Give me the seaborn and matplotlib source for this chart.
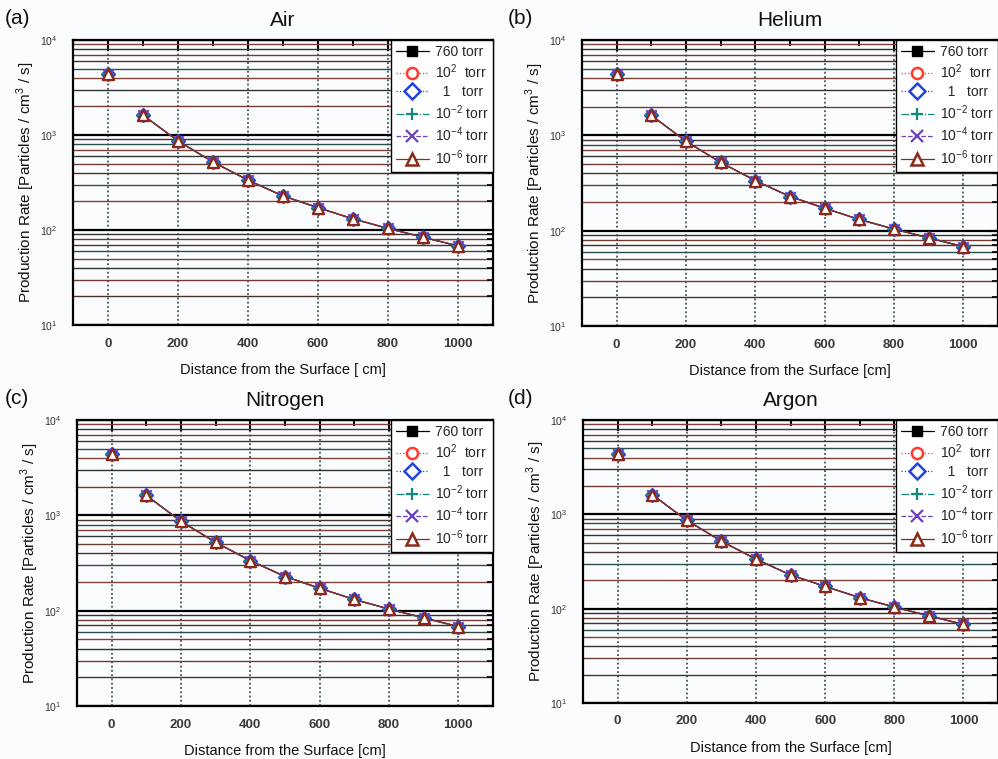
import numpy as np
import pandas as pd
import matplotlib
matplotlib.use("Agg")
import matplotlib.pyplot as plt
import seaborn as sns
from matplotlib.lines import Line2D
from matplotlib.ticker import LogLocator, MultipleLocator, NullFormatter

sns.set_theme(style="white")
plt.rcParams["font.family"] = ["Liberation Sans", "DejaVu Sans"]
plt.rcParams["mathtext.fontset"] = "custom"
plt.rcParams["mathtext.rm"] = "Liberation Sans"

# ---------------- data ----------------
distance = [0, 100, 200, 300, 400, 500, 600, 700, 800, 900, 1000]

rate_air      = [4400, 1620, 865, 520, 335, 228, 172, 131, 104, 84, 68]
rate_helium   = [4400, 1620, 865, 520, 335, 228, 172, 131, 104, 84, 68]
rate_nitrogen = [4400, 1620, 865, 520, 335, 228, 172, 131, 104, 84, 68]
rate_argon    = [4400, 1620, 865, 520, 335, 228, 172, 131, 104, 84, 68]

pressures = ["760 torr", "10$^2$  torr", "  1   torr",
             "10$^{-2}$ torr", "10$^{-4}$ torr", "10$^{-6}$ torr"]
gases = ["Air", "Helium", "Nitrogen", "Argon"]
panel_tags = ["(a)", "(b)", "(c)", "(d)"]
xlabels = ["Distance from the Surface [ cm]", "Distance from the Surface [cm]",
           "Distance from the Surface [cm]", "Distance from the Surface [cm]"]
gas_rates = [rate_air, rate_helium, rate_nitrogen, rate_argon]

# ---------------- styles ----------------
colors = ["black", "#ff3b2f", "#2244dd", "#128a7a", "#6a3fc0", "#8b2a1a"]
markers = ["s", "o", "D", "+", "x", "^"]
lstyles = ["-", ":", ":", "-.", "--", "-"]
filled = [True, False, False, None, None, False]
msizes = [5, 6.5, 6.5, 8, 7.5, 8]

BG = "#fbfcfe"
W, H = 998, 759
fig = plt.figure(figsize=(W / 100, H / 100), dpi=100, facecolor=BG)

# pixel boxes: left, top, right, bottom
boxes = [(73, 40, 493, 325), (582, 40, 998, 326),
         (77, 420, 493, 706), (583, 420, 998, 703)]

minor_cols = ["#2f3535", "#7d4235", "#2c4f4d", "#4a3030", "#6e3b30"]

for k, (gas, tag, xl, rates) in enumerate(zip(gases, panel_tags, xlabels, gas_rates)):
    l, t, r, b = boxes[k]
    ax = fig.add_axes([l / W, 1 - b / H, (r - l) / W, (b - t) / H])
    ax.set_facecolor(BG)
    df = pd.DataFrame({"distance": distance, "rate": rates})

    for i in range(len(pressures)):
        sns.lineplot(data=df.iloc[1:], x="distance", y="rate", ax=ax,
                     color=colors[i], linestyle=lstyles[i], linewidth=0.9,
                     legend=False, zorder=3 + i)
    for i in range(len(pressures)):
        if filled[i] is None:
            sns.scatterplot(data=df, x="distance", y="rate", ax=ax,
                            marker=markers[i], s=msizes[i] ** 2, color=colors[i],
                            linewidth=1.5, legend=False, zorder=10 + i)
        elif filled[i]:
            sns.scatterplot(data=df, x="distance", y="rate", ax=ax,
                            marker=markers[i], s=msizes[i] ** 2,
                            facecolor=colors[i], edgecolor=colors[i],
                            linewidth=1.0, legend=False, zorder=10 + i)
        else:
            sns.scatterplot(data=df, x="distance", y="rate", ax=ax,
                            marker=markers[i], s=msizes[i] ** 2,
                            facecolor="white", edgecolor=colors[i],
                            linewidth=1.7, legend=False, zorder=10 + i)

    ax.set_yscale("log")
    ax.set_ylim(10, 1e4)
    ax.set_xlim(-100, 1100)
    ax.xaxis.set_major_locator(MultipleLocator(200))
    ax.xaxis.set_minor_locator(MultipleLocator(100))
    ax.yaxis.set_major_locator(LogLocator(base=10, numticks=10))
    ax.yaxis.set_minor_locator(LogLocator(base=10, subs=np.arange(2, 10), numticks=20))
    ax.yaxis.set_minor_formatter(NullFormatter())

    ax.tick_params(axis="both", which="both", direction="in", top=True, right=True,
                   color="black")
    ax.tick_params(axis="x", which="major", length=8, width=1.5, labelsize=9.5,
                   pad=9, labelcolor="#3a3a3a")
    ax.tick_params(axis="x", which="minor", length=4, width=1.5)
    ax.tick_params(axis="y", which="major", length=7, width=1.5, labelsize=7.5,
                   pad=11, labelcolor="#333333")
    ax.tick_params(axis="y", which="minor", length=4, width=1.2)
    for lab in ax.get_xticklabels():
        lab.set_fontweight("bold")

    ax.grid(False)
    ax.grid(True, axis="x", which="major", color="#1f3a40", linestyle=(0, (1.2, 1.6)),
            linewidth=1.1)
    ax.grid(True, axis="y", which="major", color="black", linewidth=1.6)
    ax.grid(True, axis="y", which="minor", color="#333333", linewidth=1.0)
    ax.set_axisbelow(True)

    for sp in ax.spines.values():
        sp.set_color("black")
        sp.set_linewidth(1.6)

    ax.set_xlabel(xl, fontsize=10.5, labelpad=10, color="#111111")
    ax.set_ylabel("Production Rate [Particles / cm$^3$ / s]", fontsize=11,
                  labelpad=2, color="#111111")
    ax.set_title(gas, fontsize=15, pad=10, color="#111111")
    fig.text(5 / W if k % 2 == 0 else 508 / W, 1 - (t - 22) / H, tag,
             fontsize=15, va="center", ha="left", color="#111111")

    handles = []
    for i in range(len(pressures)):
        if filled[i] is None:
            h = Line2D([], [], color=colors[i], linestyle=lstyles[i], linewidth=0.9,
                       marker=markers[i], markersize=9, markeredgewidth=1.6)
        elif filled[i]:
            h = Line2D([], [], color=colors[i], linestyle=lstyles[i], linewidth=0.9,
                       marker=markers[i], markersize=7, markerfacecolor=colors[i])
        else:
            h = Line2D([], [], color=colors[i], linestyle=lstyles[i], linewidth=0.9,
                       marker=markers[i], markersize=8, markerfacecolor="white",
                       markeredgecolor=colors[i], markeredgewidth=1.8)
        handles.append(h)
    leg = ax.legend(handles, pressures, loc="upper right", borderaxespad=0,
                    frameon=True, fancybox=False, framealpha=1, edgecolor="black",
                    fontsize=10, labelspacing=0.28, handlelength=2.4,
                    handletextpad=0.4, borderpad=0.35)
    leg.get_frame().set_linewidth(1.0)
    leg.set_zorder(30)

    fig.canvas.draw()
    for j, tk in enumerate(ax.yaxis.get_minor_ticks()):
        tk.gridline.set_color(minor_cols[j % len(minor_cols)])

fig.savefig("out.png", dpi=100, facecolor=BG)
